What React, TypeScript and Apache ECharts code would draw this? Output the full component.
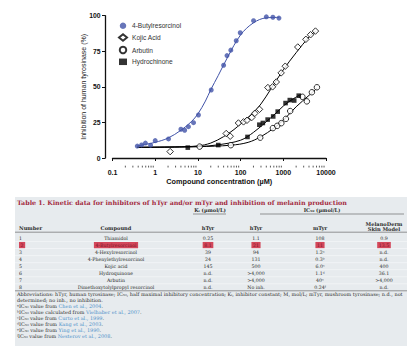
import React, { useEffect, useRef } from 'react';
import * as echarts from 'echarts';

// ---- Chart data ----
const butylX = [0.38, 0.48, 0.59, 0.78, 1.0, 2.05, 4.0, 4.9, 6.0, 7.9, 10.3, 20.5, 40, 48, 59, 79, 98, 201, 400, 570, 790];
const butylY = [8.4, 9.2, 10.5, 9.0, 12.2, 13.4, 20.2, 19.5, 22, 24.8, 30.2, 47.8, 65.2, 72, 75.8, 82.4, 88, 96.5, 99.2, 98.9, 98.3];
const kojicX = [2.24, 46, 57, 89, 117, 141, 183, 215, 277, 436, 560, 685, 890, 1110, 2180, 3380, 4340, 5660];
const kojicY = [4.5, 17.2, 15.3, 24.6, 25.4, 26.5, 28.5, 31.4, 34.2, 49.5, 50, 53.4, 59.8, 64.5, 78, 83.4, 86.6, 89.2];
const arbutinX = [11, 59, 288, 570, 720, 900, 1150, 1450, 2800, 3560, 4670, 6130];
const arbutinY = [8, 9, 14.3, 21, 22.6, 24.5, 27.5, 33, 43, 39.8, 46.2, 49.7];
const hydroX = [5.8, 30, 145, 275, 332, 430, 580, 740, 1130, 1420, 1800, 2300];
const hydroY = [7.3, 9.1, 14.8, 23.4, 24.6, 27.0, 29.2, 32.6, 38.6, 40.7, 40.4, 43.8];

// fitted curves
const butylFitX = [0.38, 0.6, 1, 2, 4, 7, 10, 15, 20, 30, 50, 100, 200, 400, 800];
const butylFitY = [8.5, 9.6, 11, 14, 19.5, 25.5, 31, 40, 48, 58, 71, 86.5, 95, 98.5, 98.8];
const kojicFitX = [0.38, 3, 10, 20, 40, 70, 100, 200, 300, 500, 1000, 2000, 4000, 5700];
const kojicFitY = [7.5, 7.8, 8.5, 10.5, 15, 20, 24, 32, 38, 48, 62, 74, 85, 89];
const hydroFitX = [0.38, 10, 30, 100, 200, 400, 700, 1000, 1500, 2500];
const hydroFitY = [7.5, 8, 9.3, 12.5, 18, 25.5, 32, 36.5, 40.5, 44.5];
const arbutinFitX = [0.38, 10, 60, 150, 300, 600, 1000, 2000, 4000, 6100];
const arbutinFitY = [7.5, 8, 9, 11, 15, 21, 26.5, 36, 44, 49];

const xMinorTicks = [
  0.2, 0.3, 0.4, 0.5, 0.6, 0.7, 0.8, 0.9,
  2, 3, 4, 5, 6, 7, 8, 9,
  20, 30, 40, 50, 60, 70, 80, 90,
  200, 300, 400, 500, 600, 700, 800, 900,
  2000, 3000, 4000, 5000, 6000, 7000, 8000, 9000,
];
const yTicks = [0, 25, 50, 75, 100];

const legendNames = ['4-Butylresorcinol', 'Kojic Acid', 'Arbutin', 'Hydrochinone'];

// ---- Table data ----
const tableTitle = 'Table 1. Kinetic data for inhibitors of hTyr and/or mTyr and inhibition of melanin production';
const rowNumbers = ['1', '2', '3', '4', '5', '6', '7', '8'];
const compounds = ['Thiamidol', '4-Butylresorcinol', '4-Hexylresorcinol', '4-Phenylethylresorcinol', 'Kojic acid', 'Hydroquinone', 'Arbutin', 'Dimethoxytolylpropyl resorcinol'];
const kiHTyr = ['0.25', '8.1', '39', '24', '145', 'n.d.', 'n.d.', 'n.d.'];
const ic50HTyr = ['1.1', '21', '94', '131', '500', '>4,000', '>4,000', 'No inh.'];
const ic50MTyr = ['108', '11', '1.2ᵃ', '0.3ᵇ', '6.0ᶜ', '1.1ᵈ', '40ᵉ', '0.24ᶠ'];
const melanoDerm = ['0.9', '13.5', 'n.d.', 'n.d.', '400', '36.1', '>4,000', 'n.d.'];
const highlightRow = 1;
const footnotes = [
  'Abbreviations: hTyr, human tyrosinase; IC₅₀, half maximal inhibitory concentration; Kᵢ, inhibitor constant; M, mol/L; mTyr, mushroom tyrosinase; n.d., not',
  'determined; no inh., no inhibition.',
  'ᵃIC₅₀ value from {l|Chen et al., 2004}.',
  'ᵇIC₅₀ value calculated from {l|Vielhaber et al., 2007}.',
  'ᶜIC₅₀ value from {l|Curto et al., 1999}.',
  'ᵈIC₅₀ value from {l|Kang et al., 2003}.',
  'ᵉIC₅₀ value from {l|Ying et al., 1990}.',
  'ᶠIC₅₀ value from {l|Nesterov et al., 2008}.',
];

const BLUE = '#4153a8';
const SANS = '"Liberation Sans", Arial, sans-serif';
const SERIF = '"DejaVu Serif", "Liberation Serif", serif';
const X_OFFSET = 7.7;

function pairs(xs: number[], ys: number[]) {
  return xs.map((x, i) => [x, ys[i]]);
}

function buildTable(): any[] {
  const els: any[] = [];
  const textColor = '#2b2b2b';
  const colNum = 19;
  const colComp = 116;
  const colKi = 208;
  const colH = 256;
  const colM = 320;
  const colMel = 384;
  const bodySize = 4.7;

  els.push({ type: 'rect', shape: { x: 15, y: 197, width: 392, height: 149 }, style: { fill: '#e7ebee' }, z: 0 });
  els.push({
    type: 'text', x: 17, y: 202.8, z: 2,
    style: { text: tableTitle, fill: '#a32a40', font: `bold 6.35px ${SERIF}`, align: 'left', verticalAlign: 'middle' },
  });
  // group headers
  els.push({ type: 'text', x: 210, y: 210, z: 2, style: { text: 'Kᵢ (µmol/L)', fill: textColor, font: `bold 5px ${SERIF}`, align: 'center', verticalAlign: 'middle' } });
  els.push({ type: 'line', shape: { x1: 193, y1: 214, x2: 226, y2: 214 }, style: { stroke: '#555', lineWidth: 0.6 }, z: 2 });
  els.push({ type: 'text', x: 322, y: 210, z: 2, style: { text: 'IC₅₀ (µmol/L)', fill: textColor, font: `bold 5px ${SERIF}`, align: 'center', verticalAlign: 'middle' } });
  els.push({ type: 'line', shape: { x1: 260, y1: 214, x2: 404, y2: 214 }, style: { stroke: '#555', lineWidth: 0.6 }, z: 2 });

  const hdr = (text: string, x: number, y: number, align: string) => ({
    type: 'text', x, y, z: 2,
    style: { text, fill: textColor, font: `bold 5.1px ${SERIF}`, align, verticalAlign: 'middle' },
  });
  els.push(hdr('Number', colNum, 227.8, 'left'));
  els.push(hdr('Compound', colComp, 227.8, 'center'));
  els.push(hdr('hTyr', colKi, 227.8, 'center'));
  els.push(hdr('hTyr', colH, 227.8, 'center'));
  els.push(hdr('mTyr', colM, 227.8, 'center'));
  els.push(hdr('MelanoDerm', colMel, 223.6, 'center'));
  els.push(hdr('Skin Model', colMel, 229, 'center'));
  els.push({ type: 'line', shape: { x1: 15, y1: 232.2, x2: 407, y2: 232.2 }, style: { stroke: '#555', lineWidth: 0.6 }, z: 2 });

  const pitch = 7.05;
  for (let i = 0; i < rowNumbers.length; i++) {
    const y = 238 + i * pitch;
    if (i < rowNumbers.length - 1) {
      els.push({ type: 'line', shape: { x1: 15, y1: y + 3.5, x2: 407, y2: y + 3.5 }, style: { stroke: '#f7f9fa', lineWidth: 0.6 }, z: 1 });
    }
    const hl = i === highlightRow;
    const cell = (text: string, x: number, align: string) => ({
      type: 'text', x, y, z: 2,
      style: hl
        ? { text, fill: '#7a1424', font: `${bodySize}px ${SERIF}`, align, verticalAlign: 'middle', backgroundColor: '#d3475b', padding: [0.6, 1.6] }
        : { text, fill: textColor, font: `${bodySize}px ${SERIF}`, align, verticalAlign: 'middle' },
    });
    els.push(cell(rowNumbers[i], colNum, 'left'));
    els.push(cell(compounds[i], colComp, 'center'));
    els.push(cell(kiHTyr[i], colKi, 'center'));
    els.push(cell(ic50HTyr[i], colH, 'center'));
    els.push(cell(ic50MTyr[i], colM, 'center'));
    els.push(cell(melanoDerm[i], colMel, 'center'));
  }
  els.push({ type: 'line', shape: { x1: 15, y1: 290.8, x2: 407, y2: 290.8 }, style: { stroke: '#555', lineWidth: 0.6 }, z: 2 });

  for (let i = 0; i < footnotes.length; i++) {
    els.push({
      type: 'text', x: 17, y: 294 + i * 5.95, z: 2,
      style: {
        text: footnotes[i], fill: textColor, font: `4.95px ${SERIF}`, align: 'left', verticalAlign: 'middle',
        rich: { l: { fill: '#4a8fc9', color: '#4a8fc9', font: `4.95px ${SERIF}` } },
      },
    });
  }
  return els;
}

export default function App() {
  const ref = useRef<HTMLDivElement>(null);
  useEffect(() => {
    if (!ref.current) return;
    const chart = echarts.init(ref.current, undefined, { renderer: 'svg' });
    const openStyle = { color: '#fff', borderColor: '#000', borderWidth: 1 };
    const fitLine = (name: string, xs: number[], ys: number[], color: string) => ({
      type: 'line', name, data: pairs(xs, ys), smooth: 0.35, symbol: 'none', showSymbol: false,
      lineStyle: { color, width: 1 }, z: 3, silent: true,
    });
    chart.setOption({
      animation: false,
      grid: { left: 112.5, right: 89, top: 15.7, bottom: 198 },
      legend: {
        data: legendNames, orient: 'vertical', left: 113, top: 17.3,
        itemWidth: 8, itemHeight: 6.5, itemGap: 4,
        textStyle: { fontSize: 6.6, color: '#333', fontFamily: SANS, lineHeight: 6.5 },
      },
      xAxis: {
        type: 'log', logBase: 10, min: 0.1, max: 10000, offset: X_OFFSET,
        name: 'Compound concentration (µM)', nameLocation: 'middle', nameGap: 12, nameMoveOverlap: false,
        nameTextStyle: { fontSize: 7.3, fontWeight: 'bold', color: '#111', fontFamily: SANS },
        axisLine: { lineStyle: { color: '#111', width: 1.3 } },
        axisTick: { show: true, length: 3, lineStyle: { color: '#111', width: 1 } },
        axisLabel: { fontSize: 7, fontWeight: 'bold', color: '#111', fontFamily: SANS, margin: 3.5,
          formatter: (v: number) => String(v) },
        splitLine: { show: false },
      },
      yAxis: {
        type: 'value', min: 0, max: 100, interval: 25, offset: 7.5,
        name: 'Inhibition of human tyrosinase (%)', nameLocation: 'middle', nameGap: 18.5, nameMoveOverlap: false,
        nameTextStyle: { fontSize: 7, color: '#222', fontFamily: SANS },
        axisLine: { show: true, lineStyle: { color: '#111', width: 1.3 } },
        axisTick: { show: true, length: 3, lineStyle: { color: '#111', width: 1 } },
        axisLabel: { fontSize: 6.8, fontWeight: 'bold', color: '#111', fontFamily: SANS, margin: 4.5,
          customValues: yTicks },
        splitLine: { show: false },
      },
      series: [
        fitLine('fitButyl', butylFitX, butylFitY, BLUE),
        fitLine('fitKojic', kojicFitX, kojicFitY, '#000'),
        fitLine('fitHydro', hydroFitX, hydroFitY, '#000'),
        fitLine('fitArbutin', arbutinFitX, arbutinFitY, '#000'),
        {
          type: 'custom', name: 'minorTicks', data: xMinorTicks.map((v) => [v, 0]), silent: true, clip: false, z: 2,
          renderItem: (_p: any, api: any) => {
            const p = api.coord([api.value(0), 0]);
            return { type: 'line', shape: { x1: p[0], y1: p[1] + X_OFFSET, x2: p[0], y2: p[1] + X_OFFSET + 1.8 }, style: { stroke: '#111', lineWidth: 0.7 } };
          },
        },
        { type: 'scatter', name: '4-Butylresorcinol', data: pairs(butylX, butylY), symbol: 'circle', symbolSize: 5, itemStyle: { color: BLUE }, z: 6 },
        { type: 'scatter', name: 'Kojic Acid', data: pairs(kojicX, kojicY), symbol: 'diamond', symbolSize: 6.5, itemStyle: openStyle, z: 6 },
        { type: 'scatter', name: 'Arbutin', data: pairs(arbutinX, arbutinY), symbol: 'circle', symbolSize: 5.5, itemStyle: openStyle, z: 6 },
        { type: 'scatter', name: 'Hydrochinone', data: pairs(hydroX, hydroY), symbol: 'rect', symbolSize: 4.6, itemStyle: { color: '#000' }, z: 6 },
      ],
      graphic: buildTable(),
    });
    return () => chart.dispose();
  }, []);
  return <div ref={ref} style={{ position: 'absolute', left: 0, top: 0, width: 415, height: 356, background: '#fff' }} />;
}
